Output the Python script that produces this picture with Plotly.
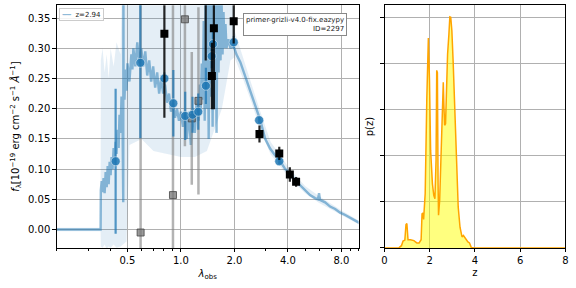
import plotly.graph_objects as go

# ---------------- data ----------------
# template / spectrum (wavelength in micron, flux in 1e-19 erg/cm2/s/A)
tmpl_wave = [0.20, 0.353, 0.354, 0.358, 0.362, 0.367, 0.372, 0.377, 0.382, 0.387, 0.392, 0.397,
             0.402, 0.407, 0.412, 0.418, 0.423, 0.429, 0.434, 0.440, 0.446, 0.451, 0.457, 0.463,
             0.469, 0.4735, 0.4745, 0.4755, 0.481, 0.487, 0.494, 0.500, 0.513, 0.526, 0.533, 0.540,
             0.554, 0.568, 0.583, 0.598, 0.614, 0.630, 0.646, 0.663, 0.680, 0.698, 0.716, 0.735,
             0.754, 0.774, 0.794, 0.814, 0.836, 0.857, 0.880, 0.902, 0.926, 0.950, 0.975, 1.000,
             1.026, 1.053, 1.080, 1.108, 1.137, 1.167, 1.197, 1.228, 1.260, 1.278, 1.293, 1.310,
             1.326, 1.344, 1.361, 1.379, 1.396, 1.414, 1.433, 1.451, 1.470, 1.489, 1.508, 1.528,
             1.547, 1.567, 1.587, 1.608, 1.629, 1.650, 1.671, 1.693, 1.715, 1.737, 1.759, 1.782,
             1.805, 1.852, 1.900, 1.949, 2.000, 2.052, 2.160, 2.274, 2.364, 2.457, 2.555, 2.656,
             2.796, 2.980, 3.177, 3.387, 3.565, 3.846, 4.105, 4.382, 4.678, 4.993, 5.330, 5.690,
             5.915, 5.991, 6.068, 6.478, 6.915, 7.381, 7.879, 8.410, 8.978, 9.583, 10.1]
tmpl_flux = [0.0, 0.0, 0.065, 0.080, 0.062, 0.085, 0.060, 0.095, 0.070, 0.105, 0.075, 0.112,
             0.090, 0.120, 0.100, 0.135, 0.110, 0.145, 0.125, 0.165, 0.135, 0.190, 0.160, 0.220,
             0.180, 0.045, 0.420, 0.240, 0.215, 0.265, 0.230, 0.275, 0.245, 0.290, 0.265, 0.300,
             0.270, 0.310, 0.275, 0.300, 0.270, 0.295, 0.255, 0.280, 0.245, 0.270, 0.235, 0.260,
             0.225, 0.250, 0.225, 0.240, 0.210, 0.225, 0.195, 0.210, 0.185, 0.200, 0.180, 0.195,
             0.170, 0.195, 0.150, 0.195, 0.140, 0.200, 0.160, 0.215, 0.180, 0.240, 0.200, 0.275,
             0.215, 0.345, 0.180, 0.400, 0.200, 0.400, 0.150, 0.400, 0.220, 0.400, 0.170, 0.400,
             0.200, 0.400, 0.160, 0.400, 0.260, 0.400, 0.280, 0.380, 0.290, 0.360, 0.300, 0.340,
             0.300, 0.315, 0.300, 0.305, 0.300, 0.290, 0.277, 0.258, 0.242, 0.228, 0.214, 0.198,
             0.181, 0.150, 0.134, 0.123, 0.116, 0.101, 0.093, 0.082, 0.074, 0.066, 0.057, 0.052,
             0.050, 0.060, 0.049, 0.045, 0.038, 0.034, 0.028, 0.024, 0.019, 0.014, 0.011]

# template uncertainty band
band_wave = [0.20, 0.353, 0.354, 0.362, 0.372, 0.382, 0.392, 0.402, 0.418, 0.434, 0.457, 0.469,
             0.494, 0.513, 0.600, 0.700, 0.850, 1.000, 1.200, 1.400, 1.700, 1.900, 2.000, 2.200,
             2.500, 2.800, 3.200, 3.600, 4.100, 5.000, 6.000, 8.000, 10.1]
band_lo = [-0.003, -0.003, -0.028, -0.030, -0.025, -0.032, -0.028, -0.030, -0.025, -0.030, -0.028,
           -0.025, -0.020, 0.140, 0.150, 0.130, 0.125, 0.120, 0.120, 0.130, 0.200, 0.280, 0.285,
           0.255, 0.210, 0.165, 0.124, 0.106, 0.085, 0.060, 0.044, 0.024, 0.008]
band_hi = [0.003, 0.003, 0.280, 0.300, 0.260, 0.290, 0.250, 0.300, 0.270, 0.310, 0.290, 0.450,
           0.450, 0.450, 0.450, 0.450, 0.450, 0.450, 0.450, 0.450, 0.450, 0.450, 0.330, 0.290,
           0.240, 0.195, 0.145, 0.124, 0.100, 0.072, 0.055, 0.032, 0.014]

# model photometry (blue circles)
model_wave = [0.429, 0.591, 0.807, 0.906, 1.057, 1.162, 1.252, 1.382, 1.489, 1.514, 1.982, 2.757, 3.578]
model_flux = [0.113, 0.276, 0.250, 0.209, 0.188, 0.190, 0.195, 0.238, 0.287, 0.307, 0.310, 0.181, 0.113]
model_err = [0.120, 0.125, 0.010, 0.055, 0.040, 0.030, 0.030, 0.030, 0.020, 0.020, 0.010, 0.005, 0.005]

# observed photometry (black squares)
obs_wave = [0.807, 1.379, 1.494, 1.533, 1.982, 2.768, 3.578, 4.104, 4.450]
obs_flux = [0.324, 0.415, 0.254, 0.333, 0.345, 0.158, 0.126, 0.091, 0.079]
obs_err = [0.139, 0.135, 0.055, 0.134, 0.037, 0.014, 0.011, 0.012, 0.008]

# low-weight photometry (grey squares)
low_wave = [0.593, 0.902, 1.053, 1.151, 1.255]
low_flux = [-0.005, 0.057, 0.348, 0.184, 0.213]
low_err = [0.400, 0.320, 0.210, 0.110, 0.155]

# p(z)
z_grid = [0.0, 0.63, 0.67, 0.75, 0.82, 0.90, 0.95, 0.99, 1.04, 1.15, 1.30, 1.43, 1.53, 1.62, 1.66,
          1.70, 1.73, 1.80, 1.87, 1.91, 1.94, 1.99, 2.04, 2.12, 2.18, 2.23, 2.28, 2.31, 2.34, 2.37,
          2.39, 2.44, 2.50, 2.55, 2.60, 2.63, 2.66, 2.70, 2.74, 2.79, 2.85, 2.89, 2.93, 2.98, 3.04,
          3.11, 3.18, 3.26, 3.34, 3.43, 3.49, 3.58, 3.69, 3.76, 3.84, 3.96, 8.0]
pz = [0.0, 0.0, 0.02, 0.05, 0.15, 0.17, 0.51, 0.53, 0.18, 0.18, 0.16, 0.11, 0.11, 0.18, 0.74,
      0.76, 0.62, 1.18, 3.20, 4.53, 4.55, 3.63, 2.11, 1.39, 1.14, 1.07, 1.90, 3.85, 3.80, 1.40,
      0.71, 1.03, 1.90, 3.05, 3.59, 3.05, 2.66, 2.69, 3.56, 4.20, 4.64, 5.01, 5.00, 4.71, 3.99,
      2.84, 1.75, 0.89, 0.45, 0.24, 0.27, 0.20, 0.13, 0.11, 0.01, 0.0, 0.0]

x_ticks = [0.5, 1.0, 2.0, 4.0, 8.0]
x_ticktext = ["0.5", "1.0", "2.0", "4.0", "8.0"]
x_minor = [0.2, 0.3, 0.4, 0.6, 0.7, 0.8, 0.9, 3.0, 5.0, 6.0, 7.0, 9.0, 10.0]
legend_label = "z=2.94"

BLUE = "31,119,180"
FONT = "DejaVu Sans"

fig = go.Figure()

# uncertainty band
fig.add_trace(go.Scatter(x=band_wave, y=band_lo, mode="lines", line=dict(width=0),
                         showlegend=False, hoverinfo="skip", xaxis="x", yaxis="y"))
fig.add_trace(go.Scatter(x=band_wave, y=band_hi, mode="lines", line=dict(width=0),
                         fill="tonexty", fillcolor=f"rgba({BLUE},0.12)",
                         showlegend=False, hoverinfo="skip", xaxis="x", yaxis="y"))
# template
fig.add_trace(go.Scatter(x=tmpl_wave, y=tmpl_flux, mode="lines", name=legend_label,
                         showlegend=False,
                         line=dict(color=f"rgba({BLUE},0.5)", width=2.4),
                         xaxis="x", yaxis="y"))
# grey low-weight photometry
fig.add_trace(go.Scatter(x=low_wave, y=low_flux, mode="markers", showlegend=False,
                         marker=dict(symbol="square", size=7, color="rgba(120,120,120,0.75)",
                                     line=dict(color="rgba(70,70,70,0.8)", width=1)),
                         error_y=dict(type="data", array=low_err, color="rgba(128,128,128,0.6)",
                                      thickness=2.5, width=0),
                         xaxis="x", yaxis="y"))
# model photometry
fig.add_trace(go.Scatter(x=model_wave, y=model_flux, mode="markers", showlegend=False,
                         marker=dict(symbol="circle", size=9, color=f"rgba({BLUE},0.85)",
                                     line=dict(color="rgba(255,255,255,0.6)", width=0.8)),
                         error_y=dict(type="data", array=model_err, color=f"rgba({BLUE},0.75)",
                                      thickness=2.2, width=0),
                         xaxis="x", yaxis="y"))
# observed photometry
fig.add_trace(go.Scatter(x=obs_wave, y=obs_flux, mode="markers", showlegend=False,
                         marker=dict(symbol="square", size=8, color="black"),
                         error_y=dict(type="data", array=obs_err, color="rgba(0,0,0,0.85)",
                                      thickness=2.2, width=0),
                         xaxis="x", yaxis="y"))

# p(z)
fig.add_trace(go.Scatter(x=z_grid, y=pz, mode="lines", showlegend=False,
                         line=dict(color="orange", width=1.5),
                         fill="tozeroy", fillcolor="rgba(255,255,0,0.5)",
                         xaxis="x2", yaxis="y2"))

axis_common = dict(showline=True, linecolor="black", linewidth=1, mirror=True,
                   ticks="outside", ticklen=3.5, tickwidth=0.8, tickcolor="black",
                   showgrid=True, gridcolor="#b0b0b0", gridwidth=0.8, zeroline=False,
                   tickfont=dict(family=FONT, size=10, color="black"))

fig.update_layout(
    width=576, height=288, margin=dict(l=0, r=0, t=0, b=0),
    paper_bgcolor="white", plot_bgcolor="white", showlegend=False,
    font=dict(family=FONT, size=10, color="black"),
    xaxis=dict(axis_common, domain=[0.0943, 0.6238], type="log",
               range=[-0.699, 1.0], tickmode="array", tickvals=x_ticks, ticktext=x_ticktext,
               minor=dict(tickmode="array", tickvals=x_minor, ticks="outside", ticklen=2,
                          tickcolor="black", showgrid=False),
               title=dict(text="<i>λ</i><sub>obs</sub>", standoff=4,
                          font=dict(family=FONT, size=10)),
               anchor="y"),
    yaxis=dict(axis_common, domain=[0.1389, 0.9816], range=[-0.0306, 0.3712],
               tickmode="linear", tick0=0, dtick=0.05, tickformat=".2f",
               title=dict(text="<i>f</i><sub>λ</sub>[10<sup>−19</sup> erg cm<sup>−2</sup> s<sup>−1</sup> <i>Å</i><sup>−1</sup>]",
                          standoff=6, font=dict(family=FONT, size=10)),
               anchor="x"),
    xaxis2=dict(axis_common, domain=[0.6693, 0.9866], range=[0, 8],
                tickmode="array", tickvals=[0, 2, 4, 6, 8],
                title=dict(text="z", standoff=3, font=dict(family=FONT, size=10)),
                anchor="y2"),
    yaxis2=dict(axis_common, domain=[0.1389, 0.9816], range=[0, 5.26],
                tickmode="array", tickvals=[0, 1, 2, 3, 4, 5], showticklabels=False,
                title=dict(text="p(z)", standoff=4, font=dict(family=FONT, size=10)),
                anchor="x2"),
    annotations=[
        dict(text=f"<span style='color:rgba({BLUE},0.5)'>━━</span>  {legend_label}",
             xref="paper", yref="paper", x=0.099, y=0.973, xanchor="left", yanchor="top",
             align="left", showarrow=False, font=dict(family=FONT, size=7, color="#222"),
             bordercolor="#cccccc", borderwidth=1, borderpad=1.5, bgcolor="rgba(255,255,255,0.85)"),
        dict(text="primer-grizli-v4.0-fix.eazypy<br>ID=2297", xref="paper", yref="paper",
             x=0.604, y=0.955, xanchor="right", yanchor="top", align="right",
             showarrow=False, font=dict(family=FONT, size=7, color="#222"),
             bordercolor="#888", borderwidth=1, borderpad=2, bgcolor="white"),
    ],
)

fig.write_html("out.html")
